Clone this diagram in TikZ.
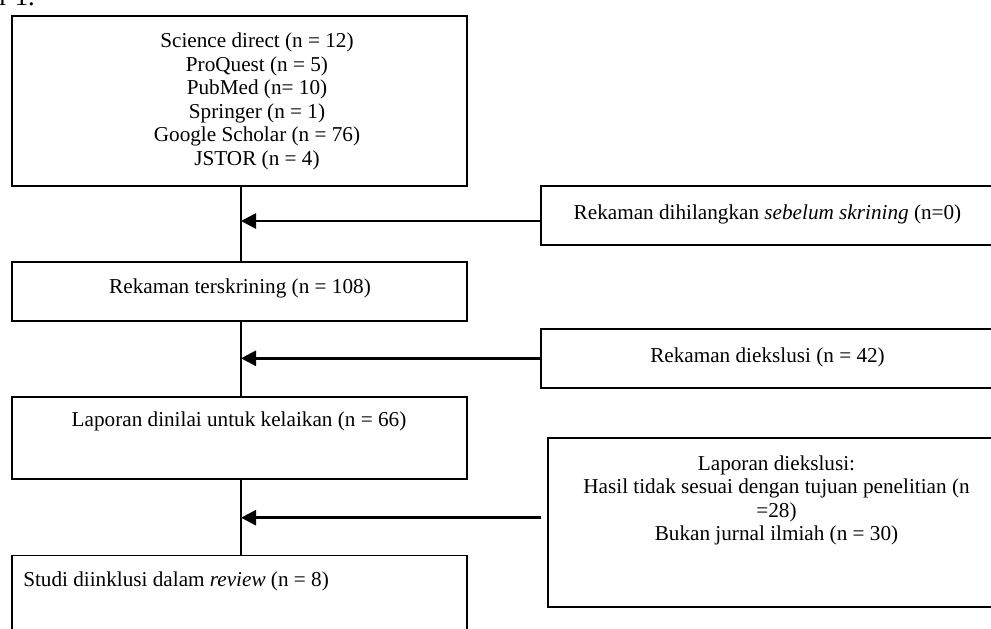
\documentclass[tikz,border=0pt]{standalone}
\usepackage{fontspec}
\setmainfont{Liberation Serif}
\usetikzlibrary{fit,arrows.meta}
\begin{document}
\begin{tikzpicture}[x=0.75pt,y=-0.75pt,
  box/.style={draw, line width=1.35pt, inner sep=0pt, rectangle},
  txt/.style={font=\fontsize{15.9}{17.6}\selectfont, inner sep=0pt, align=center},
  spine/.style={line width=1.25pt},
  arr/.style={line width=2pt, -{Triangle[length=11.25pt,width=11.25pt]}}]
\useasboundingbox (0,0) rectangle (991,628);
\clip (0,0) rectangle (991,628);
% left column boxes
\node[box, fit={(11.7,16) (466.7,185.7)}] (b1) {};
\node[box, fit={(11.7,261.7) (466.7,320.7)}] (b2) {};
\node[box, fit={(11.7,396.7) (466.7,479.3)}] (b3) {};
\node[box, fit={(11.7,555.5) (466.7,640)}] (b4) {};
% right column boxes
\node[box, fit={(540.7,186) (994,245)}] (r1) {};
\node[box, fit={(540.7,329) (994,387.7)}] (r2) {};
\node[box, fit={(548.3,438) (1005,607)}] (r3) {};
% texts
\node[font=\fontsize{20}{24}\selectfont, inner sep=0pt, anchor=base west] (cap) at (-1,5) {r 1.};
\node[txt, anchor=north] (t1) at (257,31.2) {\strut Science direct (n = 12)\\ ProQuest (n = 5)\\ PubMed (n= 10)\\ Springer (n = 1)\\ Google Scholar (n = 76)\\ JSTOR (n = 4)};
\node[txt, anchor=base] (t2) at (240,293) {Rekaman terskrining (n = 108)};
\node[txt, anchor=base] (t3) at (239,426) {Laporan dinilai untuk kelaikan (n = 66)};
\node[txt, anchor=base west] (t4) at (23,586) {Studi diinklusi dalam \textit{review} (n = 8)};
\node[txt, anchor=base] (tr1) at (767.5,219) {Rekaman dihilangkan \textit{sebelum skrining} (n=0)};
\node[txt, anchor=base] (tr2) at (767.5,362) {Rekaman diekslusi (n = 42)};
\node[txt, anchor=north] (tr3) at (776.5,453.6) {\strut Laporan diekslusi:\\ Hasil tidak sesuai dengan tujuan penelitian (n\\ =28)\\ Bukan jurnal ilmiah (n = 30)};
% connectors
\coordinate (sp) at (241,0);
\coordinate (a1) at (540.7,221);
\coordinate (a2) at (540.7,358.3);
\coordinate (a3) at (540.7,517.7);
\draw[spine] (b1.south -| sp) -- (b2.north -| sp);
\draw[spine] (b2.south -| sp) -- (b3.north -| sp);
\draw[spine] (b3.south -| sp) -- (b4.north -| sp);
\draw[arr] (r1.west |- a1) -- (sp |- a1);
\draw[arr] (r2.west |- a2) -- (sp |- a2);
\draw[arr] (a3) -- (sp |- a3);
\end{tikzpicture}
\end{document}
